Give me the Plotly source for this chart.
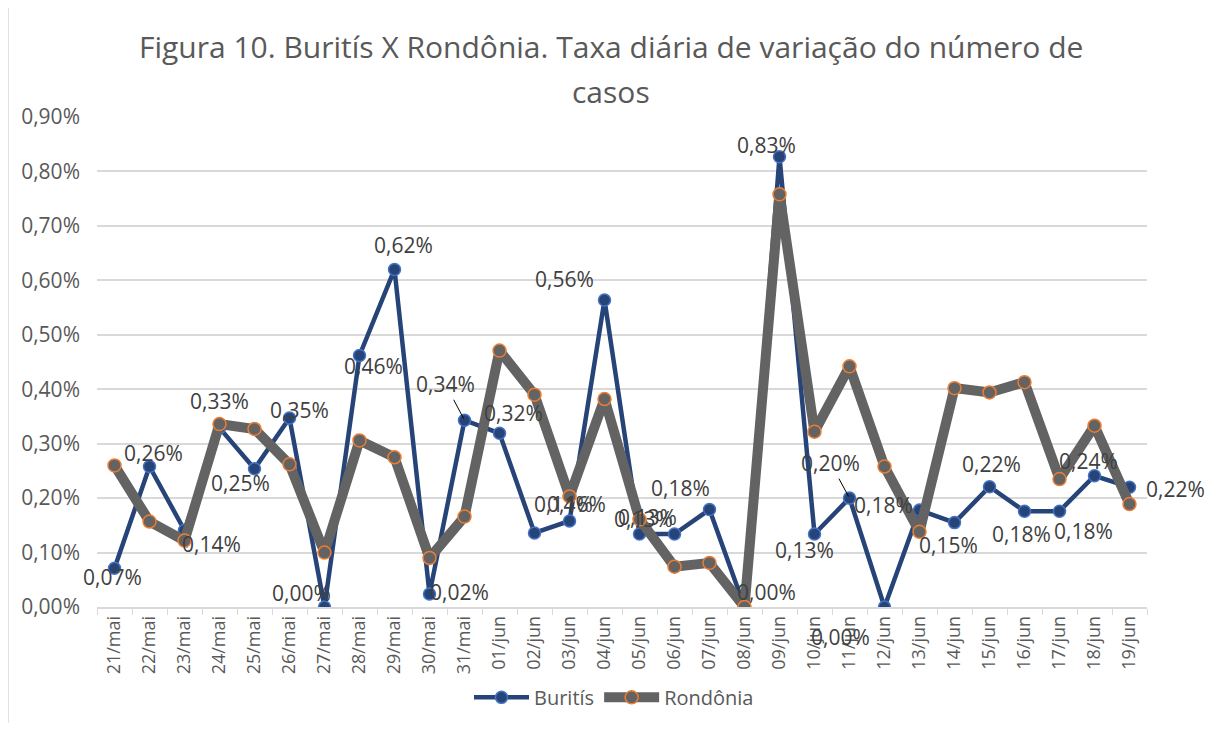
import plotly.graph_objects as go

categories = ["21/mai", "22/mai", "23/mai", "24/mai", "25/mai", "26/mai", "27/mai", "28/mai",
              "29/mai", "30/mai", "31/mai", "01/jun", "02/jun", "03/jun", "04/jun", "05/jun",
              "06/jun", "07/jun", "08/jun", "09/jun", "10/jun", "11/jun", "12/jun", "13/jun",
              "14/jun", "15/jun", "16/jun", "17/jun", "18/jun", "19/jun"]

# daily variation rate, in percent
buritis = [0.071, 0.258, 0.141, 0.329, 0.254, 0.347, 0.000, 0.462, 0.620, 0.024,
           0.343, 0.319, 0.136, 0.158, 0.564, 0.134, 0.134, 0.179, 0.000, 0.827,
           0.134, 0.200, 0.000, 0.178, 0.155, 0.221, 0.176, 0.176, 0.241, 0.220]

rondonia = [0.260, 0.157, 0.122, 0.336, 0.327, 0.262, 0.100, 0.306, 0.275, 0.090,
            0.166, 0.471, 0.390, 0.203, 0.382, 0.161, 0.074, 0.081, 0.000, 0.758,
            0.322, 0.442, 0.258, 0.138, 0.402, 0.394, 0.413, 0.235, 0.333, 0.189]

# label offsets in pixels (dx right, dy down) and leader-line flags
label_dx = [-2, 4, 27, 0, -14, 10, -23, 14, 9, 30, -19, 14, 29, 7, -40, 4, -27, -29, 22, -13,
            -10, -19, -44, -36, -6, 2, -3, 24, -6, 46]
label_dy = [9, -14, 14, -27, 14, -8, -14, 11, -24, -2, -36, -20, -29, -17, -21, -15, -17, -22, -15, -12,
            16, -35, 30, -5, 22, -23, 23, 20, -15, 2]
leader = [i in (10, 21) for i in range(len(categories))]

TXT = "#595959"
GRID = "#d9d9d9"
FONT = "Open Sans"

OFF = 8  # page body margin
W, H = 1219 - 2 * OFF, 731 - 2 * OFF
PL, PR, PT, PB = 97, 1147, 117, 606.7   # absolute plot-area edges in the screenshot
PW, PH = PR - PL, PB - PT

def px(x):
    return (x - PL) / PW

def py(y):
    return (PB - y) / PH

fig = go.Figure()
fig.add_trace(go.Scatter(
    x=categories, y=buritis, name="Buritís", mode="lines+markers",
    line=dict(color="#264478", width=4.5),
    marker=dict(size=12, color="#264478", line=dict(color="#4472C4", width=1.5)),
))
fig.add_trace(go.Scatter(
    x=categories, y=rondonia, name="Rondônia", mode="lines+markers",
    line=dict(color="#636363", width=10),
    marker=dict(size=13, color="#636363", line=dict(color="#ED7D31", width=1.5)),
))

def fmt(v):
    return f"{v:.2f}%".replace(".", ",")

LBL = dict(family=FONT, size=21, color="#404040")
for i, (c, v) in enumerate(zip(categories, buritis)):
    if leader[i]:
        fig.add_annotation(x=c, y=v, text=fmt(v), showarrow=True, arrowhead=0,
                           arrowwidth=1, arrowcolor="#000000", ax=label_dx[i], ay=label_dy[i],
                           standoff=2, font=LBL)
    else:
        fig.add_annotation(x=c, y=v, text=fmt(v), showarrow=False,
                           xanchor="center", yanchor="middle",
                           xshift=label_dx[i], yshift=-label_dy[i], font=LBL)

# title lines
TITLE = dict(family=FONT, size=30, color=TXT)
fig.add_annotation(xref="paper", yref="paper", x=px(611), y=py(47), xanchor="center", yanchor="middle",
                   text="Figura 10. Buritís X Rondônia. Taxa diária de variação do número de",
                   showarrow=False, font=TITLE)
fig.add_annotation(xref="paper", yref="paper", x=px(611), y=py(92), xanchor="center", yanchor="middle",
                   text="casos", showarrow=False, font=TITLE)

# chart border
fig.add_shape(type="rect", xref="paper", yref="paper",
              x0=px(8), x1=px(1216), y0=py(729), y1=py(1),
              line=dict(color=GRID, width=1.5), fillcolor="rgba(0,0,0,0)", layer="below")

fig.update_layout(
    width=W, height=H, autosize=False,
    margin=dict(l=PL - OFF, r=(OFF + W) - PR, t=PT - OFF, b=(OFF + H) - PB, autoexpand=False),
    plot_bgcolor="white", paper_bgcolor="white",
    separators=",.",
    font=dict(family=FONT, color=TXT),
    showlegend=True,
    legend=dict(orientation="h", x=px(614), xanchor="center",
                y=py(697), yanchor="middle", itemwidth=55,
                font=dict(family=FONT, size=20, color=TXT), traceorder="normal",
                bgcolor="rgba(0,0,0,0)"),
    xaxis=dict(type="category", tickangle=-90, tickfont=dict(family=FONT, size=18, color=TXT),
               showgrid=False, showline=True, linecolor=GRID, linewidth=1.5,
               ticks="outside", tickson="boundaries", ticklen=6, tickcolor=GRID,
               range=[-0.5, len(categories) - 0.5], automargin=False),
    yaxis=dict(range=[0, 0.9], dtick=0.1, tickformat=".2f", ticksuffix="%",
               tickfont=dict(family=FONT, size=21, color=TXT), showgrid=True,
               gridcolor=GRID, gridwidth=1.5, zeroline=False, showline=False, ticks="",
               ticklabelstandoff=16, automargin=False),
    hovermode=False,
)

fig.write_html("out.html")
